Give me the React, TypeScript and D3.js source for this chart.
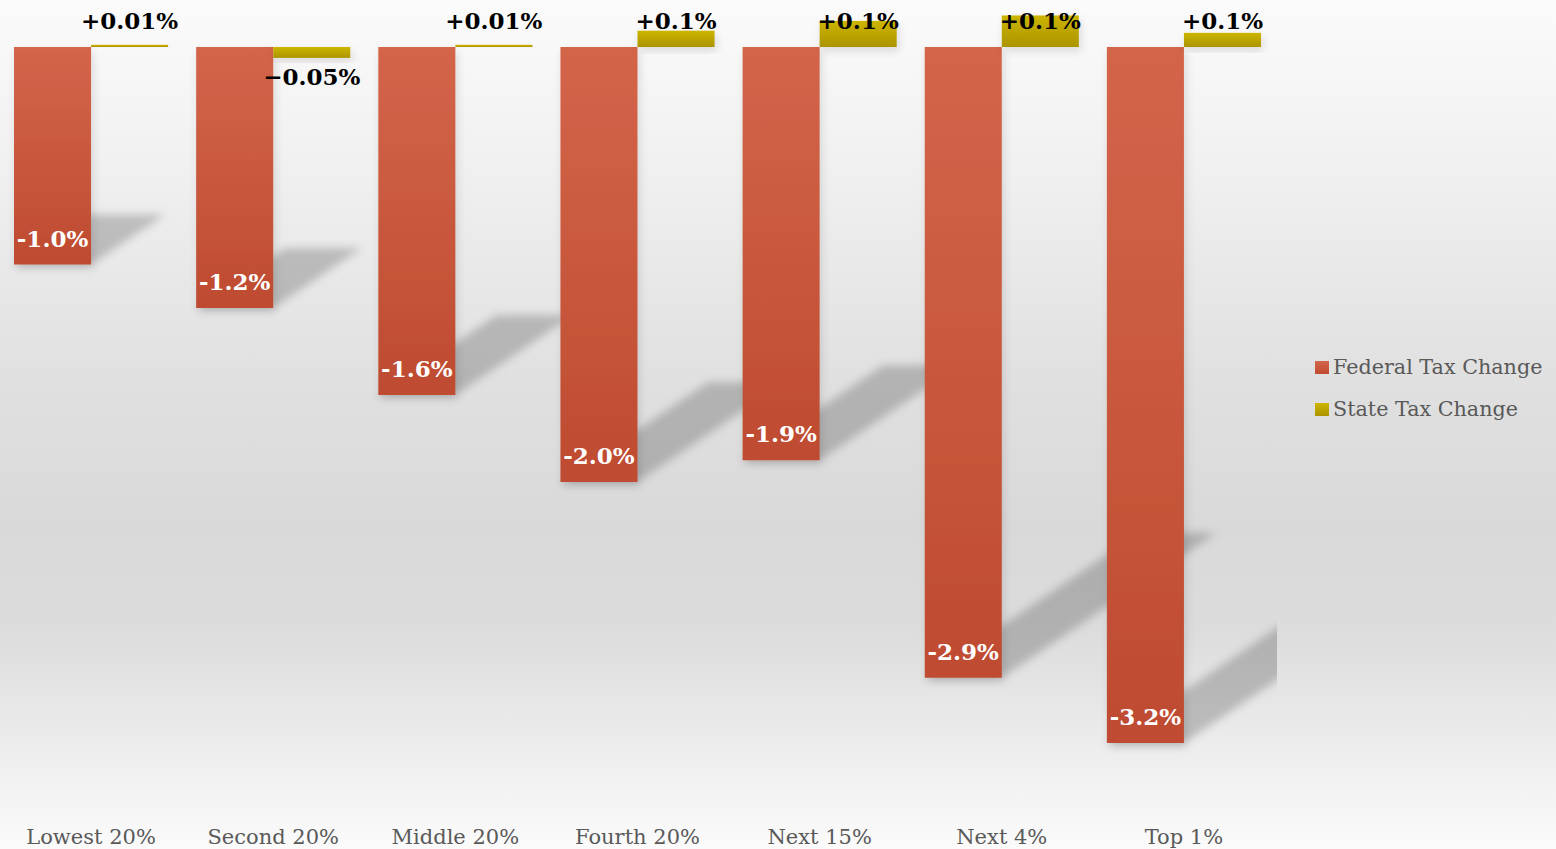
import React from "react";
import * as d3 from "d3";

const categories = ["Lowest 20%", "Second 20%", "Middle 20%", "Fourth 20%", "Next 15%", "Next 4%", "Top 1%"];
const federalValues = [-1.0, -1.2, -1.6, -2.0, -1.9, -2.9, -3.2];
const stateValues = [0.01, -0.05, 0.01, 0.075, 0.12, 0.145, 0.065];
const federalLabels = ["-1.0%", "-1.2%", "-1.6%", "-2.0%", "-1.9%", "-2.9%", "-3.2%"];
const stateLabels = ["+0.01%", "\u22120.05%", "+0.01%", "+0.1%", "+0.1%", "+0.1%", "+0.1%"];
const seriesNames = ["Federal Tax Change", "State Tax Change"];

const W = 1556;
const H = 849;
const FONT = "'DejaVu Serif', serif";

export default function App() {
  const plotRight = 1275;
  const x0 = d3.scaleBand<string>().domain(categories).range([0, plotRight]).paddingInner(0.154).paddingOuter(0.077);
  const x1 = d3.scaleBand<string>().domain(["fed", "state"]).range([0, x0.bandwidth()]).padding(0);
  const y = d3.scaleLinear().domain([0, -3.2]).range([47, 743]);
  const zero = y(0);

  return (
    <svg width={W} height={H} style={{ position: "absolute", left: 0, top: 0, display: "block" }}>
      <defs>
        <linearGradient id="bg" x1="0" y1="0" x2="0" y2="1">
          <stop offset="0" stopColor="#fbfbfb" />
          <stop offset="0.2" stopColor="#f0f0f0" />
          <stop offset="0.45" stopColor="#e0e0e0" />
          <stop offset="0.62" stopColor="#d9d9d9" />
          <stop offset="0.74" stopColor="#dcdcdc" />
          <stop offset="0.9" stopColor="#efefef" />
          <stop offset="1" stopColor="#fbfbfb" />
        </linearGradient>
        <linearGradient id="fedGrad" x1="0" y1="0" x2="0" y2="1">
          <stop offset="0" stopColor="#d3654a" />
          <stop offset="1" stopColor="#be4b30" />
        </linearGradient>
        <linearGradient id="stateGrad" x1="0" y1="0" x2="0" y2="1">
          <stop offset="0" stopColor="#cdb500" />
          <stop offset="1" stopColor="#ab9400" />
        </linearGradient>
        <filter id="castBlur" x="-20%" y="-20%" width="140%" height="140%">
          <feGaussianBlur stdDeviation="4.5" />
        </filter>
        <filter id="dropShadow" x="-20%" y="-20%" width="140%" height="160%">
          <feDropShadow dx="2" dy="4" stdDeviation="4" floodColor="#000" floodOpacity="0.12" />
        </filter>
        <clipPath id="plotClip">
          <rect x={0} y={0} width={plotRight + 2} height={800} />
        </clipPath>
      </defs>

      <rect x={0} y={0} width={W} height={H} fill="url(#bg)" />

      <g clipPath="url(#plotClip)">
        {/* perspective cast shadows */}
        {categories.map((c, i) => {
          const bx0 = (x0(c) ?? 0) + (x1("fed") ?? 0);
          const bx1 = bx0 + x1.bandwidth();
          const yb = y(federalValues[i]);
          const h = yb - zero;
          const dx = 0.34 * h;
          const dy = 0.23 * h;
          const pts = [
            [bx0, yb],
            [bx1, yb],
            [bx1 + dx, yb - dy],
            [bx0 + dx, yb - dy],
          ];
          return (
            <polygon
              key={"sh" + c}
              points={pts.map((p) => p.join(",")).join(" ")}
              fill="#000"
              fillOpacity={0.2}
              filter="url(#castBlur)"
            />
          );
        })}

        {/* federal bars */}
        {categories.map((c, i) => {
          const bx = (x0(c) ?? 0) + (x1("fed") ?? 0);
          const yv = y(federalValues[i]);
          return (
            <rect
              key={"f" + c}
              x={bx}
              y={Math.min(zero, yv)}
              width={x1.bandwidth()}
              height={Math.abs(yv - zero)}
              fill="url(#fedGrad)"
              filter="url(#dropShadow)"
            />
          );
        })}

        {/* state bars */}
        {categories.map((c, i) => {
          const bx = (x0(c) ?? 0) + (x1("state") ?? 0);
          const yv = y(stateValues[i]);
          return (
            <rect
              key={"s" + c}
              x={bx}
              y={Math.min(zero, yv)}
              width={x1.bandwidth()}
              height={Math.max(1, Math.abs(yv - zero))}
              fill="url(#stateGrad)"
              filter="url(#dropShadow)"
            />
          );
        })}

        {/* federal labels */}
        {categories.map((c, i) => {
          const cx = (x0(c) ?? 0) + (x1("fed") ?? 0) + x1.bandwidth() / 2;
          const yv = y(federalValues[i]);
          return (
            <text
              key={"fl" + c}
              x={cx}
              y={yv - 18}
              textAnchor="middle"
              fontFamily={FONT}
              fontWeight="bold"
              fontSize={23}
              fill="#ffffff"
            >
              {federalLabels[i]}
            </text>
          );
        })}

        {/* state labels */}
        {categories.map((c, i) => {
          const cx = (x0(c) ?? 0) + (x1("state") ?? 0) + x1.bandwidth() / 2;
          const v = stateValues[i];
          const ly = v >= 0 ? zero - 18 : y(v) + 27;
          return (
            <text
              key={"sl" + c}
              x={cx}
              y={ly}
              textAnchor="middle"
              fontFamily={FONT}
              fontWeight="bold"
              fontSize={23}
              fill="#000000"
            >
              {stateLabels[i]}
            </text>
          );
        })}
      </g>

      {/* category axis labels */}
      {categories.map((c) => (
        <text
          key={"ax" + c}
          x={(x0(c) ?? 0) + x0.bandwidth() / 2}
          y={844}
          textAnchor="middle"
          fontFamily={FONT}
          fontSize={21}
          fill="#595959"
        >
          {c}
        </text>
      ))}

      {/* legend */}
      {seriesNames.map((s, i) => (
        <g key={"lg" + s} transform={`translate(1315, ${361 + i * 42})`}>
          <rect x={0} y={0} width={14} height={13} fill={i === 0 ? "url(#fedGrad)" : "url(#stateGrad)"} />
          <text x={18} y={13} fontFamily={FONT} fontSize={20.7} fill="#595959">
            {s}
          </text>
        </g>
      ))}
    </svg>
  );
}
